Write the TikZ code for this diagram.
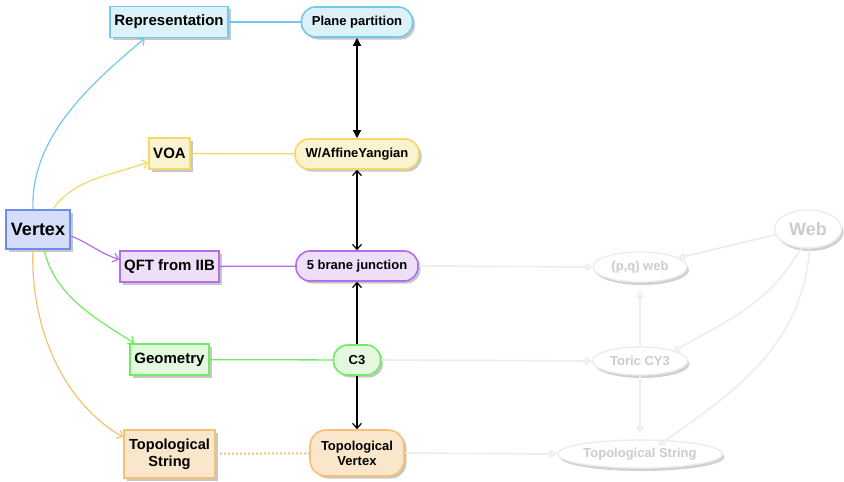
\documentclass[tikz,border=0pt]{standalone}
\usepackage{fontspec}
\setmainfont{Liberation Sans}
\usetikzlibrary{arrows.meta,shapes.geometric,shadows}

% border / fill pairs for each theme
\definecolor{repB}{HTML}{74C8EE}\definecolor{repF}{HTML}{DDF1F9}
\definecolor{voaB}{HTML}{F2D96A}\definecolor{voaF}{HTML}{FBF3CF}
\definecolor{vtxB}{HTML}{6E8BEF}\definecolor{vtxF}{HTML}{D6DDF8}
\definecolor{qftB}{HTML}{B36FEA}\definecolor{qftF}{HTML}{EEDFF8}
\definecolor{geoB}{HTML}{72EA63}\definecolor{geoF}{HTML}{E3F8DF}
\definecolor{topB}{HTML}{F5C274}\definecolor{topF}{HTML}{FAE7CB}
\definecolor{ghostB}{HTML}{EDEDED}

\begin{document}
\begin{tikzpicture}[x=1pt,y=-1pt,
  softshadow/.style={drop shadow={shadow xshift=2.5pt,shadow yshift=-2.5pt,opacity=0.22,fill=black}},
  box/.style={draw=#1B,fill=#1F,line width=1.6pt,softshadow,
    font=\bfseries\fontsize{15}{17}\selectfont,minimum height=31pt,inner xsep=4pt,align=center},
  pill/.style={draw=#1B,fill=#1F,line width=1.6pt,softshadow,rounded corners=14pt,
    font=\bfseries\fontsize{13}{15}\selectfont,minimum height=30pt,align=center},
  link/.style={draw=#1B,line width=1.3pt},
  vtxarrow/.style={draw=#1B,line width=1.2pt,-{Straight Barb[length=5pt,width=9pt,line width=1.2pt]}},
  openarrow/.style={line width=1.3pt,{Straight Barb[length=5pt,width=9pt,line width=1.2pt]}-{Straight Barb[length=5pt,width=9pt,line width=1.2pt]}},
  solidarrow/.style={line width=1.3pt,{Triangle[length=8pt,width=8pt]}-{Triangle[length=8pt,width=8pt]}},
  ghost/.style={ellipse,draw=ghostB,fill=white,line width=1.4pt,inner sep=0pt,
    drop shadow={shadow xshift=2pt,shadow yshift=-3pt,opacity=0.18,fill=black},
    text=black!20,font=\bfseries\fontsize{13}{15}\selectfont},
  ghostline/.style={draw=ghostB,line width=1.6pt,-{Triangle[length=7pt,width=8pt,fill=white]}},
]
\useasboundingbox (0,0) rectangle (844,482);
\fill[white] (0,0) rectangle (844,482);

% ---- right-hand (faded) web ----
\node[ghost,minimum width=67pt,minimum height=38pt,
      font=\bfseries\fontsize{18}{20}\selectfont] (web) at (808,229) {Web};
\node[ghost,minimum width=94pt,minimum height=30pt] (pq) at (640,267) {(p,q) web};
\node[ghost,minimum width=95pt,minimum height=28pt] (toric) at (640,361) {Toric CY3};
\node[ghost,minimum width=165pt,minimum height=28pt] (tstr) at (640,454) {Topological String};

% ---- left column ----
\node[box=vtx,minimum width=64pt,minimum height=39pt,
      font=\bfseries\fontsize{18}{20}\selectfont] (vertex) at (38,229.5) {Vertex};
\node[box=rep,minimum width=118pt] (rep) at (169,22) {Representation};
\node[box=voa,minimum width=41pt] (voa) at (169.5,153.5) {VOA};
\node[box=qft,minimum width=99pt] (qft) at (169.5,266.5) {QFT from IIB};
\node[box=geo,minimum width=79pt] (geo) at (169.5,359.5) {Geometry};
\node[box=top,minimum width=91pt,minimum height=48pt,
      font=\bfseries\fontsize{14.6}{17}\selectfont] (ts) at (169.5,454) {Topological\\String};

% ---- middle column ----
\node[pill=rep,minimum width=111pt] (pp) at (357,22) {Plane partition};
\node[pill=voa,minimum width=124pt] (w) at (357,154) {W/AffineYangian};
\node[pill=qft,minimum width=122pt] (brane) at (357,266) {5 brane junction};
\node[pill=geo,minimum width=47pt] (c3) at (357,360) {C3};
\node[pill=top,minimum width=94pt,minimum height=46pt,rounded corners=16pt] (tv) at (357,453) {Topological\\Vertex};

% ---- faded connectors ----
\draw[ghostline] (brane.east) -- (pq.west);
\draw[ghostline] (c3.east) -- (toric.west);
\draw[ghostline] (tv.east) -- (tstr.west);
\draw[ghostline] (toric.north) -- ([yshift=-8pt]pq.south);
\draw[ghostline] (toric.south) -- ([yshift=6pt]tstr.north);
\draw[ghostline] (web.190) -- ([xshift=4pt,yshift=-2pt]pq.18);
\draw[ghostline] (web.-110) to[out=-120,in=30] ([xshift=10pt,yshift=-4pt]toric.30);
\draw[ghostline] (web.-85) to[out=-95,in=35] ([xshift=6pt,yshift=-6pt]tstr.50);

% ---- horizontal theme links ----
\draw[link=rep] (rep) -- (pp);
\draw[link=voa] (voa) -- (w);
\draw[link=qft] (qft) -- (brane);
\draw[link=geo] (geo) -- (c3);
\draw[draw=topB,line width=2pt,dotted] (ts) -- (tv);

% ---- vertical relations ----
\draw[solidarrow] (pp) -- (w);
\draw[openarrow] (w) -- (brane);
\draw[line width=1.3pt,-{Straight Barb[length=5pt,width=9pt,line width=1.2pt]}] (c3) -- (brane);
\draw[line width=1.3pt,-{Straight Barb[length=5pt,width=9pt,line width=1.2pt]}] (c3) -- (tv);

% ---- branches out of Vertex ----
\draw[vtxarrow=rep] (vertex.104) to[out=92,in=-140,looseness=0.9] (rep.-146);
\draw[vtxarrow=voa] (vertex.54) to[out=55,in=200,looseness=0.9] (voa.202);
\draw[vtxarrow=qft] (vertex.-11) to[out=-22,in=162] (qft.172);
\draw[vtxarrow=geo] (vertex.-73) to[out=-78,in=148,looseness=0.9] (geo.155);
\draw[vtxarrow=top] (vertex.-104) to[out=-92,in=150,looseness=0.9] (ts.160);
\end{tikzpicture}
\end{document}
